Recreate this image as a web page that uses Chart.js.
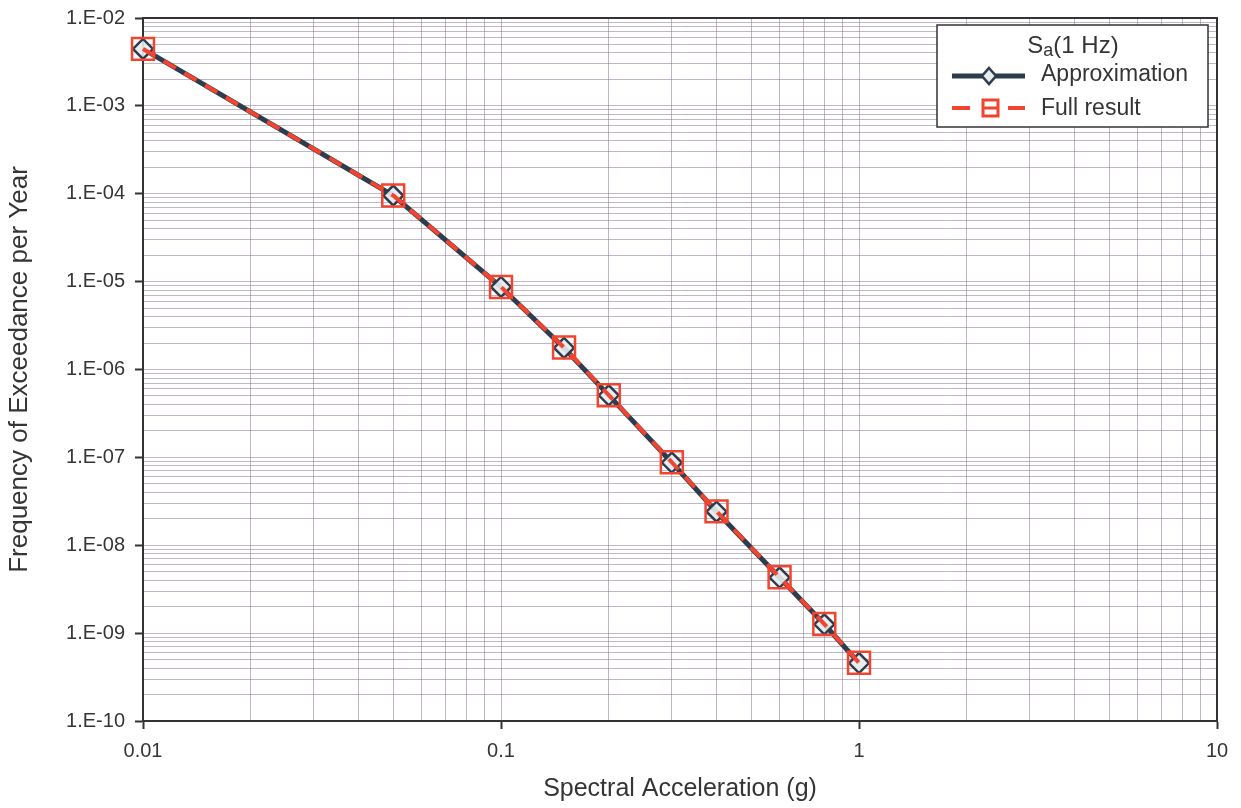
<!DOCTYPE html>
<html>
<head>
<meta charset="utf-8">
<script src="https://cdn.jsdelivr.net/npm/chart.js@4/dist/chart.umd.min.js"></script>
<style>
  html, body { margin: 0; padding: 0; background: #ffffff; }
  #wrap { width: 1241px; height: 808px; position: relative; }
</style>
</head>
<body>
<div id="wrap"><canvas id="c" width="1241" height="808"></canvas></div>
<script>
// ---- data ----
const accel = [0.01, 0.05, 0.1, 0.15, 0.2, 0.3, 0.4, 0.6, 0.8, 1.0];
const approximation = [4.45e-3, 9.55e-5, 8.69e-6, 1.76e-6, 5.08e-7, 8.73e-8, 2.41e-8, 4.29e-9, 1.26e-9, 4.56e-10];
const fullResult    = [4.45e-3, 9.55e-5, 8.69e-6, 1.78e-6, 5.10e-7, 8.80e-8, 2.43e-8, 4.32e-9, 1.27e-9, 4.60e-10];
const xMajorLabels = ['0.01', '0.1', '1', '10'];
const yMajorLabels = ['1.E-10','1.E-09','1.E-08','1.E-07','1.E-06','1.E-05','1.E-04','1.E-03','1.E-02'];
const seriesNames = ['Approximation', 'Full result'];
const legendTitle = ['S', 'a', '(1 Hz)'];

const FONT = '"Liberation Sans", Arial, Helvetica, sans-serif';
const TXT = '#353535';
const GRID = 'rgba(140,122,150,0.55)';
const NAVY = '#2e3d4d';
const RED = '#f4442f';

function decadeTicks(minExp, maxExp) {
  const t = [];
  for (let e = minExp; e < maxExp; e++) {
    for (let m = 1; m <= 9; m++) t.push({ value: m * Math.pow(10, e) });
  }
  t.push({ value: Math.pow(10, maxExp) });
  return t;
}
function isMajor(v) {
  const l = Math.log10(v);
  return Math.abs(l - Math.round(l)) < 1e-6;
}

const frameAndLegend = {
  id: 'frameAndLegend',
  beforeDatasetsDraw(chart) {
    const a = chart.chartArea, ctx = chart.ctx;
    ctx.save();
    ctx.strokeStyle = '#333';
    ctx.lineWidth = 2;
    ctx.strokeRect(a.left, a.top, a.right - a.left, a.bottom - a.top);
    ctx.restore();
  },
  afterDraw(chart) {
    const ctx = chart.ctx;
    ctx.save();
    // legend box
    const bx = 937, by = 25, bw = 271, bh = 102;
    ctx.fillStyle = '#ffffff';
    ctx.fillRect(bx, by, bw, bh);
    ctx.strokeStyle = '#333';
    ctx.lineWidth = 1.5;
    ctx.strokeRect(bx, by, bw, bh);
    // title Sa(1 Hz)
    ctx.fillStyle = TXT;
    ctx.textBaseline = 'alphabetic';
    ctx.font = '24px ' + FONT;
    const w1 = ctx.measureText(legendTitle[0]).width;
    ctx.font = '18px ' + FONT;
    const w2 = ctx.measureText(legendTitle[1]).width;
    ctx.font = '24px ' + FONT;
    const w3 = ctx.measureText(legendTitle[2]).width;
    let tx = 1073 - (w1 + w2 + w3) / 2;
    const base = 53;
    ctx.textAlign = 'left';
    ctx.fillText(legendTitle[0], tx, base); tx += w1;
    ctx.font = '18px ' + FONT;
    ctx.fillText(legendTitle[1], tx, base + 3); tx += w2;
    ctx.font = '24px ' + FONT;
    ctx.fillText(legendTitle[2], tx, base);
    // Approximation sample
    ctx.strokeStyle = NAVY; ctx.lineWidth = 5;
    ctx.beginPath(); ctx.moveTo(952, 76); ctx.lineTo(1025, 76); ctx.stroke();
    ctx.lineWidth = 2.5; ctx.fillStyle = '#e8ecef';
    ctx.beginPath();
    ctx.moveTo(989, 68); ctx.lineTo(996, 76); ctx.lineTo(989, 84); ctx.lineTo(982, 76); ctx.closePath();
    ctx.fill(); ctx.stroke();
    // Full result sample
    ctx.strokeStyle = RED; ctx.lineWidth = 4;
    ctx.beginPath(); ctx.moveTo(952, 108); ctx.lineTo(970, 108); ctx.stroke();
    ctx.beginPath(); ctx.moveTo(1008, 108); ctx.lineTo(1025, 108); ctx.stroke();
    ctx.lineWidth = 3;
    ctx.fillStyle = '#ffffff';
    ctx.fillRect(983, 100, 15, 16);
    ctx.strokeRect(983, 100, 15, 16);
    ctx.beginPath(); ctx.moveTo(983, 108); ctx.lineTo(998, 108); ctx.stroke();
    // labels
    ctx.fillStyle = TXT;
    ctx.font = '23px ' + FONT;
    ctx.textBaseline = 'middle';
    ctx.fillText(seriesNames[0], 1041, 75);
    ctx.fillText(seriesNames[1], 1041, 109);
    ctx.restore();
  }
};

new Chart(document.getElementById('c'), {
  type: 'line',
  data: {
    datasets: [
      {
        label: seriesNames[0],
        data: accel.map((x, i) => ({ x: x, y: approximation[i] })),
        borderColor: NAVY,
        borderWidth: 5,
        pointStyle: 'rectRot',
        pointRadius: 10,
        pointBorderWidth: 2.5,
        pointBorderColor: NAVY,
        pointBackgroundColor: 'rgba(232,236,238,0.9)',
        tension: 0,
        clip: false,
        order: 1
      },
      {
        label: seriesNames[1],
        data: accel.map((x, i) => ({ x: x, y: fullResult[i] })),
        borderColor: RED,
        borderWidth: 4,
        borderDash: [14, 10],
        pointStyle: 'rect',
        pointRadius: 15.5,
        pointBorderWidth: 2.5,
        pointBorderColor: RED,
        pointBackgroundColor: 'rgba(0,0,0,0)',
        tension: 0,
        clip: false,
        order: 0
      }
    ]
  },
  options: {
    responsive: false,
    animation: false,
    devicePixelRatio: 1,
    layout: { padding: { left: 0, top: 16, right: 24, bottom: 0 } },
    plugins: {
      legend: { display: false },
      tooltip: { enabled: false }
    },
    scales: {
      x: {
        type: 'logarithmic',
        min: 0.01, max: 10,
        afterBuildTicks: s => { s.ticks = decadeTicks(-2, 1); },
        afterFit: s => { s.height = 87; },
        ticks: {
          autoSkip: false, maxRotation: 0, minRotation: 0,
          color: TXT, font: { family: FONT, size: 20 }, padding: 10,
          callback: function (v) {
            if (!isMajor(v)) return '';
            return xMajorLabels[Math.round(Math.log10(v)) + 2];
          }
        },
        grid: {
          color: GRID, lineWidth: 1,
          tickColor: c => (c.tick && isMajor(c.tick.value)) ? '#333' : 'rgba(0,0,0,0)',
          tickLength: 8, tickWidth: 2
        },
        border: { display: true, color: '#333', width: 2 },
        title: {
          display: true, text: 'Spectral Acceleration (g)',
          color: TXT, font: { family: FONT, size: 25 }, padding: { top: 6 }
        }
      },
      y: {
        type: 'logarithmic',
        min: 1e-10, max: 1e-2,
        afterBuildTicks: s => { s.ticks = decadeTicks(-10, -2); },
        afterFit: s => { s.width = 143; s.paddingTop = 0; s.paddingBottom = 0; },
        ticks: {
          autoSkip: false,
          color: TXT, font: { family: FONT, size: 20 }, padding: 10,
          callback: function (v) {
            if (!isMajor(v)) return '';
            return yMajorLabels[Math.round(Math.log10(v)) + 10];
          }
        },
        grid: {
          color: GRID, lineWidth: 1,
          tickColor: c => (c.tick && isMajor(c.tick.value)) ? '#333' : 'rgba(0,0,0,0)',
          tickLength: 8, tickWidth: 2
        },
        border: { display: true, color: '#333', width: 2 },
        title: {
          display: true, text: 'Frequency of Exceedance per Year',
          color: TXT, font: { family: FONT, size: 26 }, padding: { bottom: 6 }
        }
      }
    }
  },
  plugins: [frameAndLegend]
});
</script>
</body>
</html>
